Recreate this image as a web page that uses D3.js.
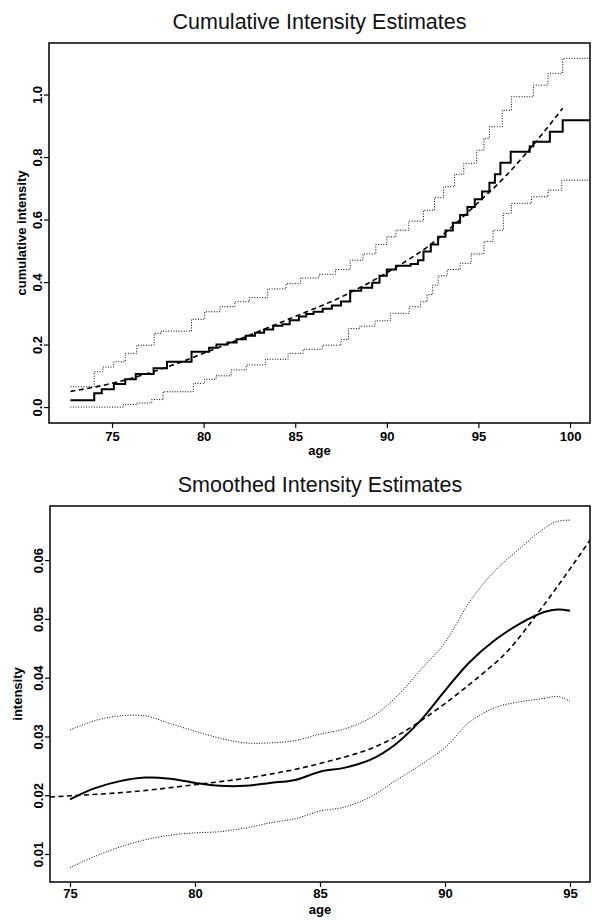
<!DOCTYPE html>
<html lang="en">
<head>
<meta charset="utf-8">
<title>Intensity Estimates</title>
<script src="https://d3js.org/d3.v7.min.js"></script>
<style>
body { margin: 0; background: #fff; }
svg { display: block; font-family: "Liberation Sans", Arial, Helvetica, sans-serif; }
.frame { fill: none; stroke: #000; stroke-width: 1.5; }
.axis path { display: none; }
.axis line { stroke: #000; stroke-width: 1.2; }
.axis text { font-size: 13px; font-weight: bold; fill: #000; }
.est { fill: none; stroke: #000; stroke-width: 2; }
.band { fill: none; stroke: #000; stroke-width: 1; stroke-dasharray: 1,1.6; }
.fit { fill: none; stroke: #000; stroke-width: 1.6; stroke-dasharray: 5,3.5; }
.title { font-size: 21.5px; text-anchor: middle; fill: #111; }
.lab { font-size: 13px; font-weight: bold; text-anchor: middle; fill: #000; }
</style>
</head>
<body>
<script>
// ---- top panel: cumulative intensity (step estimates) ----
var cumEstAge = [72.73, 74.03, 74.44, 75.1, 75.72, 76.3, 77.27, 78.0, 79.34, 80.3, 80.7, 81.3, 81.8, 82.3, 82.8, 83.3, 83.8, 84.3, 84.7, 85.2, 85.6, 86.0, 86.5, 87.0, 87.5, 88.0, 88.6, 89.2, 89.6, 90.0, 90.5, 91.3, 91.7, 92.0, 92.4, 92.8, 93.2, 93.6, 94.0, 94.4, 94.8, 95.2, 95.6, 95.9, 96.2, 96.76, 97.8, 98.0, 98.9, 99.6];
var cumEstVal = [0.022, 0.044, 0.057, 0.074, 0.089, 0.106, 0.124, 0.145, 0.177, 0.19, 0.2, 0.207, 0.217, 0.228, 0.238, 0.248, 0.26, 0.265, 0.278, 0.29, 0.298, 0.305, 0.315, 0.325, 0.338, 0.372, 0.382, 0.398, 0.42, 0.44, 0.452, 0.458, 0.47, 0.498, 0.52, 0.545, 0.565, 0.59, 0.615, 0.64, 0.665, 0.69, 0.718, 0.745, 0.782, 0.817, 0.835, 0.849, 0.881, 0.918];

var cumUpAge = [72.73, 74.03, 74.5, 75.1, 75.72, 76.35, 77.3, 77.7, 79.34, 80.06, 80.9, 81.7, 82.5, 83.5, 84.5, 85.3, 86.3, 87.2, 88.0, 88.7, 89.4, 90.0, 90.5, 91.2, 92.0, 92.6, 93.1, 93.7, 94.2, 94.9, 95.3, 95.6, 96.3, 96.8, 98.0, 98.8, 99.6];
var cumUpVal = [0.065, 0.113, 0.128, 0.145, 0.172, 0.198, 0.236, 0.243, 0.281, 0.305, 0.321, 0.337, 0.35, 0.378, 0.395, 0.413, 0.425, 0.44, 0.47, 0.49, 0.52, 0.545, 0.566, 0.595, 0.63, 0.67, 0.705, 0.745, 0.78, 0.822, 0.86, 0.897, 0.95, 0.993, 1.03, 1.068, 1.116];

var cumLoAge = [72.73, 75.62, 76.34, 77.17, 77.79, 79.44, 80.06, 80.68, 81.5, 82.33, 83.37, 84.61, 85.43, 86.47, 87.5, 87.91, 88.53, 89.36, 90.19, 91.22, 91.84, 92.2, 92.5, 92.8, 93.3, 94.0, 94.6, 95.3, 95.8, 96.36, 96.8, 97.9, 98.8, 99.55];
var cumLoVal = [0.0, 0.008, 0.013, 0.024, 0.049, 0.076, 0.089, 0.1, 0.119, 0.135, 0.153, 0.172, 0.185, 0.198, 0.216, 0.251, 0.259, 0.276, 0.3, 0.321, 0.337, 0.36, 0.39, 0.42, 0.44, 0.46, 0.49, 0.53, 0.566, 0.62, 0.652, 0.673, 0.694, 0.726];

var cumFitAge = [72.73, 75, 77.5, 80, 82.5, 85, 87.5, 90, 92.5, 95, 96.5, 97.5, 98.5, 99.6];
var cumFitVal = [0.05, 0.076, 0.118, 0.172, 0.23, 0.29, 0.352, 0.43, 0.525, 0.655, 0.74, 0.805, 0.875, 0.956];

var cumXTicks = [75, 80, 85, 90, 95, 100];
var cumYTicks = [0.0, 0.2, 0.4, 0.6, 0.8, 1.0];

// ---- bottom panel: smoothed intensity ----
var smAge = [75, 76, 77, 78, 79, 80, 81, 82, 83, 84, 85, 86, 87, 88, 89, 90, 91, 92, 93, 94, 94.5, 95];
var smEst = [0.0193, 0.0212, 0.0224, 0.023, 0.0228, 0.0221, 0.0216, 0.0216, 0.0221, 0.0226, 0.024, 0.0247, 0.026, 0.0286, 0.0326, 0.0378, 0.0427, 0.0464, 0.0492, 0.0512, 0.0516, 0.0514];
var smUp = [0.0311, 0.0327, 0.0335, 0.0335, 0.0322, 0.0309, 0.0297, 0.0289, 0.0289, 0.0293, 0.0304, 0.0313, 0.0331, 0.0365, 0.0412, 0.046, 0.053, 0.0582, 0.062, 0.0655, 0.0666, 0.0668];
var smLo = [0.0077, 0.0096, 0.0112, 0.0124, 0.0132, 0.0136, 0.0138, 0.0144, 0.0153, 0.016, 0.0173, 0.018, 0.0197, 0.0224, 0.0251, 0.0281, 0.0325, 0.0349, 0.0359, 0.0365, 0.0368, 0.036];

var smFitAge = [74.2, 75, 77.5, 80, 82.5, 85, 87.5, 90, 91.25, 92.5, 93.75, 95, 95.8];
var smFitVal = [0.0197, 0.0199, 0.0206, 0.0218, 0.0232, 0.0254, 0.0288, 0.0356, 0.0398, 0.0445, 0.0512, 0.0585, 0.0634];

var smXTicks = [75, 80, 85, 90, 95];
var smYTicks = [0.01, 0.02, 0.03, 0.04, 0.05, 0.06];

var w = 592, h = 920;

var svg = d3.select("body")
    .append("svg")
    .attr("width", w)
    .attr("height", h);

function zip(a, b) {
    return a.map(function(d, i) { return [d, b[i]]; });
}

var smooth = d3.curveCatmullRom.alpha(0.5);

function panel(opt) {
    var xScale = d3.scaleLinear().domain(opt.xDomain).range([opt.left, opt.right]);
    var yScale = d3.scaleLinear().domain(opt.yDomain).range([opt.bottom, opt.top]);
    var id = "clip" + opt.key;

    svg.append("clipPath")
        .attr("id", id)
        .append("rect")
        .attr("x", opt.left).attr("y", opt.top)
        .attr("width", opt.right - opt.left)
        .attr("height", opt.bottom - opt.top);

    var g = svg.append("g").attr("clip-path", "url(#" + id + ")");

    opt.lines.forEach(function(l) {
        var pts = l.data.slice();
        // step estimates stay flat to the right edge
        if (l.extend) pts.push([xScale.domain()[1], pts[pts.length - 1][1]]);
        var line = d3.line()
            .x(function(d) { return xScale(d[0]); })
            .y(function(d) { return yScale(d[1]); })
            .curve(l.curve);
        g.append("path")
            .datum(pts)
            .attr("class", l.cls)
            .attr("d", line);
    });

    //Create X axis
    svg.append("g")
        .attr("class", "axis")
        .attr("transform", "translate(0," + opt.bottom + ")")
        .call(d3.axisBottom(xScale).tickValues(opt.xTicks).tickSize(5).tickPadding(opt.xPad)
            .tickFormat(d3.format("d")));

    //Create Y axis, labels turned like R does
    svg.append("g")
        .attr("class", "axis")
        .attr("transform", "translate(" + opt.left + ",0)")
        .call(d3.axisLeft(yScale).tickValues(opt.yTicks).tickSize(5).tickFormat(opt.yFmt))
        .selectAll("text")
        .attr("transform", "rotate(-90)")
        .attr("x", 0)
        .attr("y", -7)
        .attr("dy", 0)
        .style("text-anchor", "middle");

    svg.append("rect")
        .attr("class", "frame")
        .attr("x", opt.left).attr("y", opt.top)
        .attr("width", opt.right - opt.left)
        .attr("height", opt.bottom - opt.top);

    svg.append("text")
        .attr("class", "title")
        .attr("x", (opt.left + opt.right) / 2)
        .attr("y", opt.top - 14)
        .text(opt.title);

    svg.append("text")
        .attr("class", "lab")
        .attr("x", (opt.left + opt.right) / 2)
        .attr("y", opt.bottom + opt.xLabGap)
        .text("age");

    svg.append("text")
        .attr("class", "lab")
        .attr("transform", "translate(" + opt.yLabX + "," + (opt.top + opt.bottom) / 2 + ") rotate(-90)")
        .text(opt.yLabel);
}

panel({
    key: "a",
    left: 49, right: 590, top: 43, bottom: 423,
    xDomain: [71.56, 101.09], yDomain: [-0.051, 1.165],
    xTicks: cumXTicks, yTicks: cumYTicks, yFmt: d3.format(".1f"), xPad: 4,
    title: "Cumulative Intensity Estimates",
    yLabel: "cumulative intensity", yLabX: 26, xLabGap: 32,
    lines: [
        { data: zip(cumUpAge, cumUpVal), cls: "band", curve: d3.curveStepAfter, extend: true },
        { data: zip(cumLoAge, cumLoVal), cls: "band", curve: d3.curveStepAfter, extend: true },
        { data: zip(cumFitAge, cumFitVal), cls: "fit", curve: d3.curveMonotoneX },
        { data: zip(cumEstAge, cumEstVal), cls: "est", curve: d3.curveStepAfter, extend: true }
    ]
});

panel({
    key: "b",
    left: 50, right: 590, top: 506, bottom: 882,
    xDomain: [74.2, 95.8], yDomain: [0.00524, 0.0692],
    xTicks: smXTicks, yTicks: smYTicks, yFmt: d3.format(".2f"), xPad: 2,
    title: "Smoothed Intensity Estimates",
    yLabel: "intensity", yLabX: 22, xLabGap: 32,
    lines: [
        { data: zip(smAge, smUp), cls: "band", curve: smooth },
        { data: zip(smAge, smLo), cls: "band", curve: smooth },
        { data: zip(smFitAge, smFitVal), cls: "fit", curve: d3.curveMonotoneX },
        { data: zip(smAge, smEst), cls: "est", curve: smooth }
    ]
});
</script>
</body>
</html>
